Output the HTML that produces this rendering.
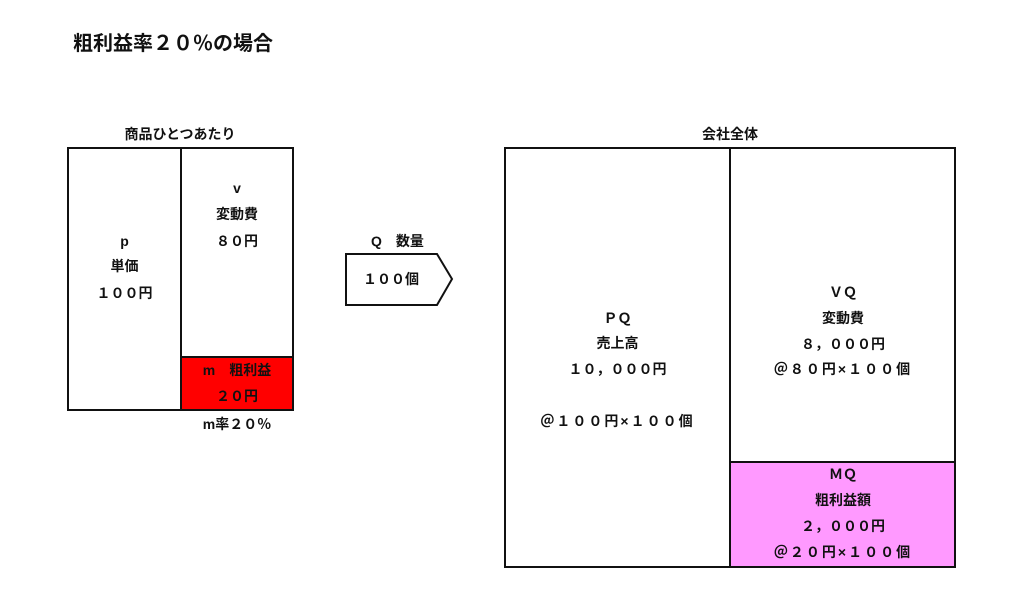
<!DOCTYPE html>
<html><head><meta charset="utf-8"><style>
body{margin:0;width:1024px;height:594px;background:#fff;position:relative;overflow:hidden;font-family:"Liberation Sans","Noto Sans CJK JP",sans-serif;font-weight:bold;color:#111}
.b{position:absolute;border:2px solid #111;box-sizing:border-box}
.t{position:absolute;text-align:center;font-size:14px;line-height:20px;white-space:nowrap}
.w{letter-spacing:2px}
</style></head><body>
<div class="t" style="left:73px;top:32px;font-size:20px;line-height:24px;text-align:left">粗利益率２０％の場合</div>
<div class="t" style="left:80px;width:200px;top:124px">商品ひとつあたり</div>
<div class="t" style="left:630px;width:200px;top:124px">会社全体</div>

<div class="b" style="left:67px;top:147px;width:227px;height:264px"></div>
<div class="b" style="left:180px;top:356px;width:114px;height:55px;background:#ff0000"></div>
<div style="position:absolute;left:180px;top:147px;width:2px;height:264px;background:#111"></div>
<div class="t" style="left:68px;width:113px;top:231px">p</div>
<div class="t" style="left:68px;width:113px;top:256px">単価</div>
<div class="t" style="left:68px;width:113px;top:283px">１００円</div>
<div class="t" style="left:181px;width:112px;top:178px">v</div>
<div class="t" style="left:181px;width:112px;top:204px">変動費</div>
<div class="t" style="left:181px;width:112px;top:231px">８０円</div>
<div class="t" style="left:181px;width:112px;top:360px">m　粗利益</div>
<div class="t" style="left:181px;width:112px;top:386px">２０円</div>
<div class="t" style="left:181px;width:112px;top:414px">m率２０％</div>

<div class="t" style="left:345px;width:105px;top:231px">Q　数量</div>
<svg style="position:absolute;left:0;top:0" width="1024" height="594"><polygon points="346,254 437,254 452,279 437,305 346,305" fill="#fff" stroke="#111" stroke-width="2"/></svg>
<div class="t" style="left:345px;width:92px;top:269px">１００個</div>

<div class="b" style="left:504px;top:147px;width:452px;height:421px"></div>
<div class="b" style="left:729px;top:461px;width:227px;height:107px;background:#ff99ff"></div>
<div style="position:absolute;left:729px;top:147px;width:2px;height:421px;background:#111"></div>
<div class="t" style="left:505px;width:225px;top:308px">ＰＱ</div>
<div class="t" style="left:505px;width:225px;top:333px">売上高</div>
<div class="t" style="left:505px;width:225px;top:359px">１０，０００円</div>
<div class="t w" style="left:505px;width:225px;top:411px">＠１００円×１００個</div>
<div class="t" style="left:731px;width:224px;top:282px">ＶＱ</div>
<div class="t" style="left:731px;width:224px;top:308px">変動費</div>
<div class="t" style="left:731px;width:224px;top:334px">８，０００円</div>
<div class="t w" style="left:731px;width:224px;top:359px">＠８０円×１００個</div>
<div class="t" style="left:731px;width:224px;top:464px">ＭＱ</div>
<div class="t" style="left:731px;width:224px;top:490px">粗利益額</div>
<div class="t" style="left:731px;width:224px;top:516px">２，０００円</div>
<div class="t w" style="left:731px;width:224px;top:542px">＠２０円×１００個</div>
</body></html>
